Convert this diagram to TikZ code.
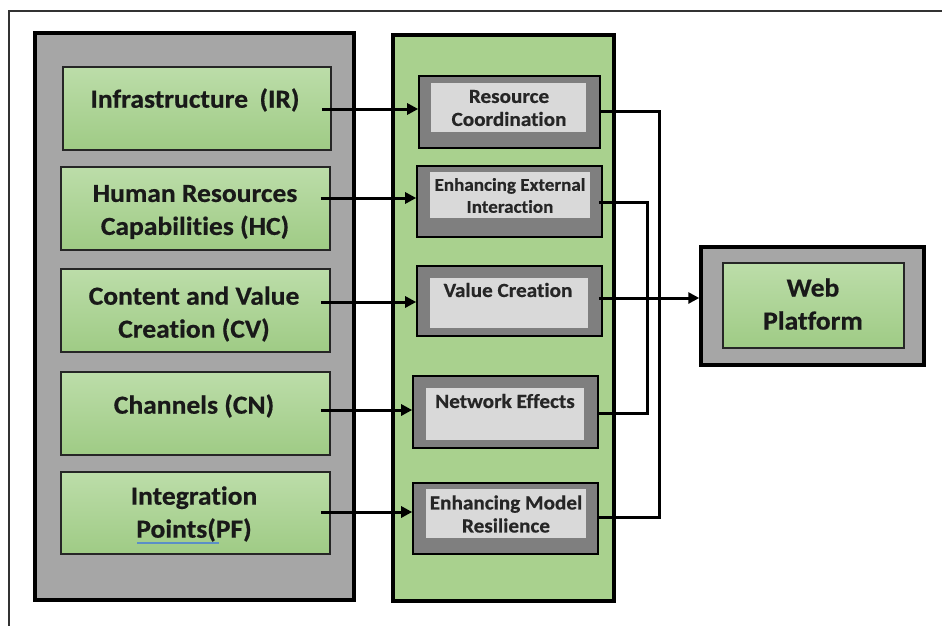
\documentclass[tikz,border=0pt]{standalone}
\usepackage{fontspec}
\setmainfont[Ligatures={NoCommon}, FakeStretch=1.06, BoldFeatures={FakeBold=0.6}]{Carlito}
\usetikzlibrary{arrows.meta,calc}
\definecolor{panelgray}{HTML}{A6A6A6}
\definecolor{panelgreen}{HTML}{A9D18E}
\definecolor{greentop}{HTML}{BCDDA9}
\definecolor{greenbot}{HTML}{9FCB85}
\definecolor{boxdark}{HTML}{7F7F7F}
\definecolor{boxlight}{HTML}{D9D9D9}
\definecolor{spellblue}{HTML}{5B8FC7}
\begin{document}
\begin{tikzpicture}[x=1pt,y=-1pt,
  panel/.style={draw=black, line width=3.5pt, inner sep=0pt},
  greenbox/.style={draw=black!85, line width=1.6pt, top color=greentop, bottom color=greenbot, inner sep=0pt},
  darkbox/.style={draw=black, line width=1.6pt, fill=boxdark, inner sep=0pt},
  lightbox/.style={fill=boxlight, inner sep=0pt},
  bigtext/.style={font=\bfseries\fontsize{26}{33}\selectfont, align=center, text=black!90, inner sep=0pt},
  smalltext/.style={font=\bfseries\fontsize{20}{23}\selectfont, align=center, text=black!85, inner sep=0pt},
  conn/.style={line width=3pt, black},
  arr/.style={conn, -{Triangle[length=11pt,width=11pt]}}]
\useasboundingbox (0,0) rectangle (942,626);

% page frame (top and left edges only)
\draw[line width=1.5pt, black!80] (942,11) -- (9,11) -- (9,626);

% left panel: the five resource groups
\node[panel, fill=panelgray, minimum width=319pt, minimum height=567pt] (leftpanel) at (194.5,316.5) {};
\node[greenbox, minimum width=268pt, minimum height=83pt] (ir) at (197,108.5) {};
\node[greenbox, minimum width=269pt, minimum height=83pt] (hc) at (195.5,208.5) {};
\node[greenbox, minimum width=269pt, minimum height=83pt] (cv) at (195.5,310.5) {};
\node[greenbox, minimum width=269pt, minimum height=83pt] (cn) at (195.5,413.5) {};
\node[greenbox, minimum width=269pt, minimum height=82pt] (pf) at (195.5,513) {};
\node[bigtext] (irt) at (195,100) {Infrastructure\hspace{0.2em} (IR)};
\node[bigtext] (hct) at (195,212) {Human Resources\\Capabilities (HC)};
\node[bigtext] (cvt) at (194,314) {Content and Value\\Creation (CV)};
\node[bigtext] (cnt) at (194,406) {Channels (CN)};
\node[bigtext] (pft) at (194,514) {Integration\\Points(PF)};
\draw[spellblue, line width=2pt] (137,543) -- (219,543);

% middle panel: the five mechanisms
\node[panel, fill=panelgreen, minimum width=221pt, minimum height=566pt] (midpanel) at (503.5,318) {};
\node[darkbox, minimum width=181pt, minimum height=72pt] (rc) at (509.5,112) {};
\node[darkbox, minimum width=185pt, minimum height=71pt] (ee) at (509.5,201.5) {};
\node[darkbox, minimum width=185pt, minimum height=70pt] (vc) at (509.5,301) {};
\node[darkbox, minimum width=185pt, minimum height=72pt] (ne) at (505.5,412) {};
\node[darkbox, minimum width=185pt, minimum height=71pt] (mr) at (505.5,518.5) {};
\node[lightbox, minimum width=155pt, minimum height=49pt] (rcin) at (508.5,107.5) {};
\node[lightbox, minimum width=160pt, minimum height=46pt] (eein) at (510,195) {};
\node[lightbox, minimum width=158pt, minimum height=50pt] (vcin) at (509,303) {};
\node[lightbox, minimum width=158pt, minimum height=52pt] (nein) at (505,414) {};
\node[lightbox, minimum width=160pt, minimum height=49pt] (mrin) at (506,513.5) {};
\node[smalltext] (rct) at (509,108) {Resource\\Coordination};
\node[smalltext, font=\bfseries\fontsize{18}{22}\selectfont] (eet) at (510,195.5) {Enhancing External\\Interaction};
\node[smalltext] (vct) at (508,290) {Value Creation};
\node[smalltext] (net) at (505,401) {Network Effects};
\node[smalltext] (mrt) at (506,514) {Enhancing Model\\Resilience};

% output: web platform
\node[panel, fill=panelgray, minimum width=223pt, minimum height=118pt] (web) at (812.5,306) {};
\node[greenbox, minimum width=181pt, minimum height=85pt] (webin) at (813.5,305.5) {};
\node[bigtext] (webt) at (813,304) {Web\\Platform};

% inputs into the mechanisms
\draw[arr] ($(ir.east)+(-10,0.5)$) coordinate (s1) -- (s1 -| rc.west);
\draw[arr] ($(hc.east)+(-10,-10.5)$) coordinate (s2) -- (s2 -| ee.west);
\draw[arr] ($(cv.east)+(-10,-8.5)$) coordinate (s3) -- (s3 -| vc.west);
\draw[arr] ($(cn.east)+(-10,-3.5)$) coordinate (s4) -- (s4 -| ne.west);
\draw[arr] ($(pf.east)+(-10,-1)$) coordinate (s5) -- (s5 -| mr.west);

% feedback links on the right
\coordinate (loopa) at (659,0);
\coordinate (loopb) at (647,0);
\coordinate (r1) at ($(rc.east)+(0,-1)$);
\coordinate (r2) at ($(mr.east)+(0,-1.5)$);
\coordinate (e1) at ($(ee.east)+(-4,0.5)$);
\coordinate (e2) at ($(ne.east)+(0,1)$);
\draw[conn] (r1) -- (r1 -| loopa) -- (r2 -| loopa) -- (r2);
\draw[conn] (e1) -- (e1 -| loopb) -- (e2 -| loopb) -- (e2);

% value creation feeds the platform
\draw[arr] ($(vc.east)+(-4,-3)$) coordinate (v1) -- (v1 -| web.west);
\end{tikzpicture}
\end{document}
